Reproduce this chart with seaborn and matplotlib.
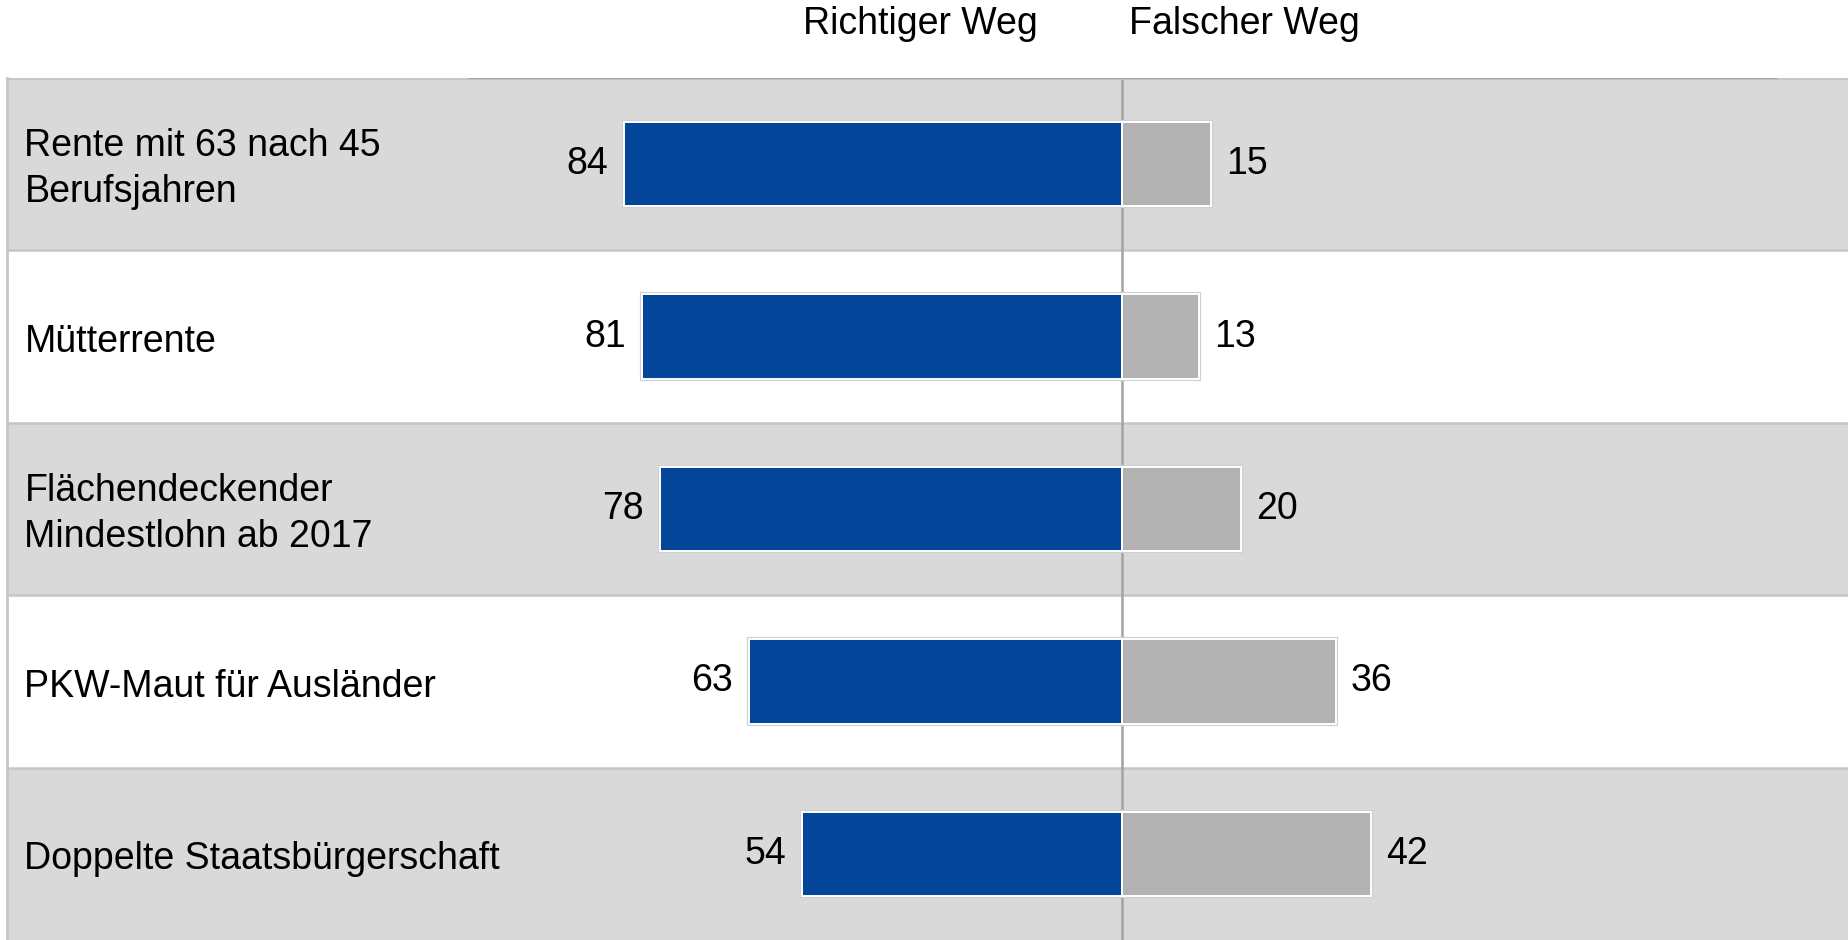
import matplotlib
matplotlib.use("Agg")
import matplotlib.pyplot as plt
import matplotlib.transforms as mtransforms
import pandas as pd
import seaborn as sns

# Survey data: share of respondents (%) per policy topic
themen = [
    "Rente mit 63 nach 45\nBerufsjahren",
    "Mütterrente",
    "Flächendeckender\nMindestlohn ab 2017",
    "PKW-Maut für Ausländer",
    "Doppelte Staatsbürgerschaft",
]
richtiger_weg = [84, 81, 78, 63, 54]
falscher_weg = [15, 13, 20, 36, 42]
spalten = ["Richtiger Weg", "Falscher Weg"]

BLUE = "#024599"
GREY_BAR = "#b2b2b2"
ROW_GREY = "#d9d9d9"
RULE = "#c6c6c6"
AXIS_LINE = "#a3a3a3"

sns.set_theme(style="white")
plt.rcParams["font.family"] = ["Liberation Sans", "DejaVu Sans"]

df = pd.DataFrame({
    "thema": themen,
    "richtig_links": [-v for v in richtiger_weg],
    "falsch": falscher_weg,
})

W, H = 1849, 940
fig = plt.figure(figsize=(W / 100, H / 100), dpi=100)
top_px = 78
left_px = 7
ax = fig.add_axes([left_px / W, 0, 1 - left_px / W, 1 - top_px / H])

# alternating row bands and separators
for i in range(len(themen)):
    if i % 2 == 0:
        ax.axhspan(i - 0.5, i + 0.5, color=ROW_GREY, lw=0, zorder=0)
for i in range(1, len(themen)):
    ax.axhline(i - 0.5, color=RULE, lw=1.8, zorder=0.5)

# centre axis line
ax.axvline(0, color=AXIS_LINE, lw=1.8, zorder=1)

bar_w = 0.49
for col, colr in (("richtig_links", BLUE), ("falsch", GREY_BAR)):
    # outer light outline, then white inner rim
    sns.barplot(data=df, x=col, y="thema", orient="h", color=colr,
                saturation=1, width=bar_w, edgecolor="#cfcfcf",
                linewidth=3.0, ax=ax, zorder=2)
    sns.barplot(data=df, x=col, y="thema", orient="h", color=colr,
                saturation=1, width=bar_w, edgecolor="white",
                linewidth=1.4, ax=ax, zorder=3)

ax.set_xlim(-188.0, 122.5)
ax.set_ylim(len(themen) - 0.5, -0.5)

# value labels
fs = 27
for i, (r, f) in enumerate(zip(richtiger_weg, falscher_weg)):
    ax.text(-r - 2.7, i, f"{r}", ha="right", va="center", fontsize=fs,
            color="black", zorder=5)
    ax.text(f + 2.5, i, f"{f}", ha="left", va="center", fontsize=fs,
            color="black", zorder=5)

# category labels
lab_tr = mtransforms.blended_transform_factory(ax.transAxes, ax.transData)
for i, t in enumerate(themen):
    ax.text(0.0095, i + 0.03, t, transform=lab_tr, ha="left", va="center",
            fontsize=fs, color="black", linespacing=1.36, zorder=5)

# column headers above the chart
hdr = mtransforms.blended_transform_factory(ax.transData, fig.transFigure)
ax.text(-34, 1 - 23.6 / H, spalten[0], transform=hdr, ha="center",
        va="center", fontsize=fs, color="black", clip_on=False)
ax.text(20.5, 1 - 23.6 / H, spalten[1], transform=hdr, ha="center",
        va="center", fontsize=fs, color="black", clip_on=False)

# top rule: lighter at the ends, darker in the middle
ax.axhline(-0.5, color=RULE, lw=2.2, zorder=1)
ax.axhline(-0.5, xmin=0.2508, xmax=0.961, color="#a8a8a8", lw=1.6, zorder=1.2)

ax.set_xlabel("")
ax.set_ylabel("")
ax.set_xticks([])
ax.set_yticks([])
for s in ("top", "right", "bottom"):
    ax.spines[s].set_visible(False)
ax.spines["left"].set_color(RULE)
ax.spines["left"].set_linewidth(2.0)

fig.savefig("out.png", dpi=100, facecolor="white")
